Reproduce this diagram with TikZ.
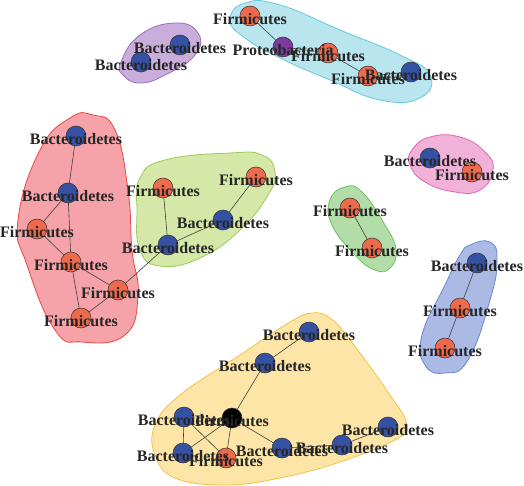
\documentclass[tikz,border=0pt]{standalone}
\usepackage{fontspec}
\setmainfont{Liberation Serif}
\definecolor{firmc}{HTML}{EE6A4C}
\definecolor{bactc}{HTML}{3551A4}
\definecolor{protc}{HTML}{7E3B9E}
\definecolor{hpurF}{HTML}{C9AEDB}\definecolor{hpurD}{HTML}{9A6DC0}
\definecolor{hcyaF}{HTML}{B9E5EF}\definecolor{hcyaD}{HTML}{66C9E0}
\definecolor{hredF}{HTML}{F5A3A8}\definecolor{hredD}{HTML}{EE4444}
\definecolor{hgrnF}{HTML}{D5E8A8}\definecolor{hgrnD}{HTML}{9ACB5A}
\definecolor{hpnkF}{HTML}{F1B1D9}\definecolor{hpnkD}{HTML}{E065B5}
\definecolor{hgr2F}{HTML}{B2DDA9}\definecolor{hgr2D}{HTML}{6DC060}
\definecolor{hbluF}{HTML}{ABB9E5}\definecolor{hbluD}{HTML}{6A86D6}
\definecolor{hyelF}{HTML}{FDE5A8}\definecolor{hyelD}{HTML}{F3C244}
\begin{document}
\begin{tikzpicture}[x=1pt,y=-1pt,
  vtx/.style={circle, draw=black!80, line width=0.5pt, minimum size=20pt, inner sep=0pt},
  firm/.style={vtx, fill=firmc},
  bact/.style={vtx, fill=bactc},
  prot/.style={vtx, fill=protc},
  blk/.style={vtx, fill=black},
  lbl/.style={font=\bfseries\fontsize{16}{16}\selectfont, text=black!85, inner sep=0pt, yshift=-3pt},
  edge/.style={draw=black!75, line width=0.6pt},
  hull/.style={line width=0.8pt}]
\useasboundingbox (0,0) rectangle (524,486);
% hulls
\draw[hull, draw=hpurD, fill=hpurF] plot[smooth cycle, tension=0.8] coordinates {(121,62) (140,35) (175,23) (198,33) (195,55) (165,75) (140,83) (123,75)};
\draw[hull, draw=hcyaD, fill=hcyaF] plot[smooth cycle, tension=0.8] coordinates {(230,20) (245,3) (280,5) (340,30) (400,55) (430,75) (420,98) (380,100) (330,80) (280,58) (245,38)};
\draw[hull, draw=hredD, fill=hredF] plot[smooth cycle, tension=0.8] coordinates {(93,115) (115,130) (128,190) (132,250) (138,295) (125,335) (82,342) (55,330) (27,265) (18,220) (40,150) (70,118)};
\draw[hull, draw=hgrnD, fill=hgrnF] plot[smooth cycle, tension=0.8] coordinates {(140,178) (165,160) (230,153) (262,155) (275,172) (268,195) (240,230) (200,258) (160,266) (140,250) (137,210)};
\draw[hull, draw=hpnkD, fill=hpnkF] plot[smooth cycle, tension=0.8] coordinates {(412,150) (430,137) (460,137) (485,152) (493,170) (480,190) (455,192) (425,182) (410,165)};
\draw[hull, draw=hgr2D, fill=hgr2F] plot[smooth cycle, tension=0.8] coordinates {(330,200) (345,187) (362,192) (385,225) (396,250) (390,268) (375,270) (355,255) (332,225)};
\draw[hull, draw=hbluD, fill=hbluF] plot[smooth cycle, tension=0.8] coordinates {(470,245) (490,242) (497,260) (490,300) (468,360) (445,373) (425,365) (422,335) (445,285) (460,255)};
\draw[hull, draw=hyelD, fill=hyelF] plot[smooth cycle, tension=0.7] coordinates {(312,313) (330,318) (350,340) (390,395) (407,425) (395,440) (340,462) (280,478) (225,485) (175,478) (155,455) (155,425) (180,395) (240,355) (290,322)};
% vertices
\node[bact] (a1) at (180,45) {};
\node[bact] (a2) at (141,62) {};
\node[firm] (c1) at (250,16) {};
\node[prot] (c2) at (283,47) {};
\node[firm] (c3) at (328,53) {};
\node[firm] (c4) at (368,76) {};
\node[bact] (c5) at (411,72) {};
\node[bact] (r1) at (76,136) {};
\node[bact] (r2) at (68,193) {};
\node[firm] (r3) at (37,229) {};
\node[firm] (r4) at (71,262) {};
\node[firm] (r5) at (118,290) {};
\node[firm] (r6) at (81,318) {};
\node[firm] (g1) at (163,188) {};
\node[firm] (g2) at (256,177) {};
\node[bact] (g3) at (223,220) {};
\node[bact] (g4) at (168,245) {};
\node[bact] (p1) at (430,158) {};
\node[firm] (p2) at (472,172) {};
\node[firm] (h1) at (350,208) {};
\node[firm] (h2) at (372,248) {};
\node[bact] (u1) at (477,263) {};
\node[firm] (u2) at (460,308) {};
\node[firm] (u3) at (445,348) {};
\node[bact] (y1) at (309,332) {};
\node[bact] (y2) at (265,363) {};
\node[blk]  (y3) at (232,418) {};
\node[bact] (y4) at (184,417) {};
\node[bact] (y5) at (183,453) {};
\node[firm] (y6) at (226,458) {};
\node[bact] (y7) at (282,448) {};
\node[bact] (y8) at (342,445) {};
\node[bact] (y9) at (388,427) {};
% edges
\begin{scope}[on background layer/.style={}]
\foreach \s/\t in {c1/c2, c2/c3, c3/c4, c4/c5,
  r1/r2, r2/r3, r2/r4, r3/r4, r4/r5, r4/r6, r5/r6, r5/g4,
  g1/g4, g4/g3, g3/g2, h1/h2, u1/u2, u2/u3,
  y1/y2, y2/y3, y3/y5, y3/y6, y3/y7, y4/y5, y4/y6, y7/y8, y8/y9}
  \draw[edge] (\s) -- (\t);
\end{scope}
% labels
\foreach \n/\t in {a1/Bacteroidetes, a2/Bacteroidetes,
  c1/Firmicutes, c2/Proteobacteria, c3/Firmicutes, c4/Firmicutes, c5/Bacteroidetes,
  r1/Bacteroidetes, r2/Bacteroidetes, r3/Firmicutes, r4/Firmicutes, r5/Firmicutes, r6/Firmicutes,
  g1/Firmicutes, g2/Firmicutes, g3/Bacteroidetes, g4/Bacteroidetes,
  p1/Bacteroidetes, p2/Firmicutes, h1/Firmicutes, h2/Firmicutes,
  u1/Bacteroidetes, u2/Firmicutes, u3/Firmicutes,
  y1/Bacteroidetes, y2/Bacteroidetes, y3/Firmicutes, y4/Bacteroidetes, y5/Bacteroidetes,
  y6/Firmicutes, y7/Bacteroidetes, y8/Bacteroidetes, y9/Bacteroidetes}
  \node[lbl] (l\n) at (\n.center) {\t};
\end{tikzpicture}
\end{document}
